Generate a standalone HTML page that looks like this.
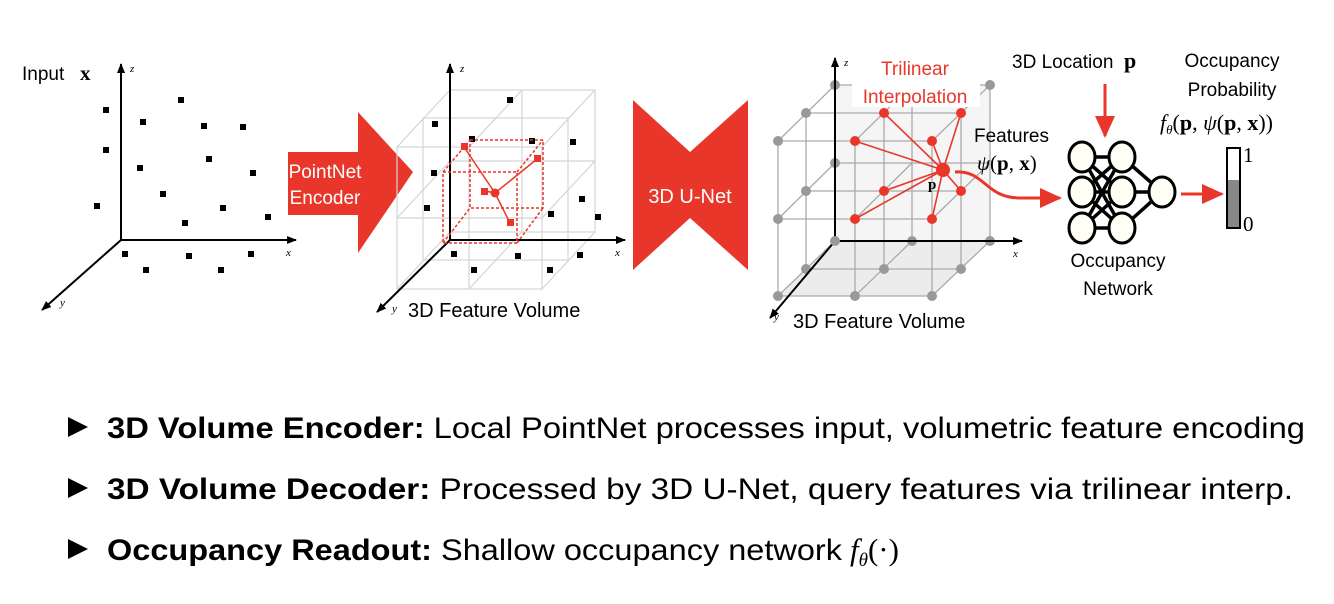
<!DOCTYPE html>
<html><head><meta charset="utf-8"><style>
html,body{margin:0;padding:0;background:#fff;}
svg{display:block;}
text{font-family:"Liberation Sans",sans-serif;}
text.m, tspan.m{font-family:"Liberation Serif",serif;}
.i{font-style:italic;}
</style></head><body>
<svg width="1334" height="604" viewBox="0 0 1334 604" xmlns="http://www.w3.org/2000/svg">
<defs>
<marker id="ab" markerWidth="10" markerHeight="10" refX="9" refY="5" orient="auto" markerUnits="userSpaceOnUse"><path d="M0,1 L10,5 L0,9 Z" fill="#000"/></marker>
<marker id="ar" markerWidth="22" markerHeight="20" refX="20" refY="10" orient="auto" markerUnits="userSpaceOnUse"><path d="M0,0 L22,10 L0,20 Z" fill="#e8372a"/></marker>
</defs>

<!-- Panel 1 -->
<text x="22" y="80" font-size="19">Input</text>
<text class="m" x="80" y="80" font-size="21" font-weight="bold">x</text>
<g stroke="#000" stroke-width="2" fill="none">
<line x1="121" y1="240" x2="121" y2="64" marker-end="url(#ab)"/>
<line x1="121" y1="240" x2="296" y2="240" marker-end="url(#ab)"/>
<line x1="121" y1="240" x2="42" y2="310" marker-end="url(#ab)"/>
</g>
<text class="m i" x="130" y="72" font-size="11">z</text>
<text class="m i" x="286" y="256" font-size="11">x</text>
<text class="m i" x="60" y="306" font-size="11">y</text>
<g fill="#000">
<rect x="103" y="107" width="6" height="6"/><rect x="178" y="97" width="6" height="6"/><rect x="140" y="119" width="6" height="6"/><rect x="201" y="123" width="6" height="6"/><rect x="240" y="124" width="6" height="6"/><rect x="103" y="147" width="6" height="6"/><rect x="137" y="165" width="6" height="6"/><rect x="206" y="156" width="6" height="6"/><rect x="250" y="170" width="6" height="6"/><rect x="160" y="191" width="6" height="6"/><rect x="94" y="203" width="6" height="6"/><rect x="220" y="205" width="6" height="6"/><rect x="182" y="220" width="6" height="6"/><rect x="265" y="214" width="6" height="6"/><rect x="122" y="251" width="6" height="6"/><rect x="186" y="253" width="6" height="6"/><rect x="248" y="251" width="6" height="6"/><rect x="143" y="267" width="6" height="6"/><rect x="218" y="267" width="6" height="6"/>
</g>

<!-- PointNet arrow -->
<polygon points="288,152 358,152 358,112 413,172 358,253 358,215 288,215" fill="#e8372a"/>
<text x="325" y="178" font-size="19" fill="#fff" text-anchor="middle">PointNet</text>
<text x="325" y="204" font-size="19" fill="#fff" text-anchor="middle">Encoder</text>

<!-- Panel 2 grid -->
<g stroke="#d4d4d4" stroke-width="1.2" fill="none">
<rect x="450" y="90" width="145" height="142"/>
<line x1="522" y1="90" x2="522" y2="232"/><line x1="450" y1="161" x2="595" y2="161"/>
<rect x="397" y="147" width="145" height="142"/>
<line x1="469" y1="147" x2="469" y2="289"/><line x1="397" y1="218" x2="542" y2="218"/>
<rect x="423" y="118" width="145" height="142"/>
<line x1="450" y1="90" x2="397" y2="147"/><line x1="522" y1="90" x2="469" y2="147"/><line x1="595" y1="90" x2="542" y2="147"/>
<line x1="450" y1="161" x2="397" y2="218"/><line x1="595" y1="161" x2="542" y2="218"/>
<line x1="450" y1="232" x2="397" y2="289"/><line x1="522" y1="232" x2="469" y2="289"/><line x1="595" y1="232" x2="542" y2="289"/>
</g>
<g stroke="#000" stroke-width="2" fill="none">
<line x1="450" y1="240" x2="450" y2="64" marker-end="url(#ab)"/>
<line x1="450" y1="240" x2="625" y2="240" marker-end="url(#ab)"/>
<line x1="450" y1="240" x2="377" y2="312" marker-end="url(#ab)"/>
</g>
<text class="m i" x="460" y="72" font-size="11">z</text>
<text class="m i" x="615" y="256" font-size="11">x</text>
<text class="m i" x="392" y="312" font-size="11">y</text>
<g fill="#000">
<rect x="432" y="121" width="6" height="6"/><rect x="507" y="97" width="6" height="6"/><rect x="469" y="136" width="6" height="6"/><rect x="529" y="138" width="6" height="6"/><rect x="570" y="139" width="6" height="6"/><rect x="431" y="170" width="6" height="6"/><rect x="579" y="196" width="6" height="6"/><rect x="424" y="205" width="6" height="6"/><rect x="548" y="211" width="6" height="6"/><rect x="595" y="214" width="6" height="6"/><rect x="451" y="251" width="6" height="6"/><rect x="515" y="253" width="6" height="6"/><rect x="577" y="252" width="6" height="6"/><rect x="471" y="267" width="6" height="6"/><rect x="547" y="267" width="6" height="6"/>
</g>
<g stroke="#e8372a" stroke-width="1.5" stroke-dasharray="3,2" fill="none">
<rect x="443" y="172" width="74" height="71"/>
<rect x="470" y="140" width="73" height="68"/>
<line x1="443" y1="172" x2="470" y2="140"/><line x1="517" y1="172" x2="543" y2="140"/><line x1="443" y1="243" x2="470" y2="208"/><line x1="517" y1="243" x2="543" y2="208"/>
</g>
<g stroke="#e8372a" stroke-width="1.5">
<line x1="495" y1="193" x2="464" y2="147"/><line x1="495" y1="193" x2="537" y2="159"/><line x1="495" y1="193" x2="485" y2="191"/><line x1="495" y1="193" x2="510" y2="223"/>
</g>
<g fill="#e8372a">
<circle cx="495" cy="193" r="4.5"/>
<rect x="461" y="143" width="7" height="7"/><rect x="534" y="155" width="7" height="7"/><rect x="481" y="188" width="7" height="7"/><rect x="507" y="219" width="7" height="7"/>
</g>
<rect x="400" y="298" width="210" height="20" fill="#fff"/>
<text x="408" y="317" font-size="20">3D Feature Volume</text>
<rect x="0" y="317" width="640" height="10" fill="#fff"/>

<!-- U-Net -->
<polygon points="633,100 690,152 748,100 748,270 690,218 633,270" fill="#e8372a"/>
<text x="690" y="203" font-size="20" fill="#fff" text-anchor="middle">3D U-Net</text>

<!-- Panel 3 -->
<polygon points="835,241 990,241 933,296 778,296" fill="#ececec"/>
<polygon points="835,85 990,85 990,241 835,241" fill="#f5f5f5"/>
<g stroke="#aaa" stroke-width="1.3" fill="none">
<path d="M835,85V241M912,85V241M990,85V241M835,85H990M835,163H990"/>
<path d="M806,113V269M884,113V269M961,113V269M806,113H961M806,191H961M806,269H961"/>
<path d="M778,141V296M855,141V296M932,141V296M778,141H932M778,219H932M778,296H932"/>
<path d="M835,85L778,141M912,85L855,141M990,85L932,141M835,163L778,219M912,163L855,219M990,163L932,219M835,241L778,296M912,241L855,296M990,241L932,296"/>
</g>
<g fill="#999">
<circle cx="835" cy="85" r="5"/><circle cx="990" cy="85" r="5"/><circle cx="835" cy="163" r="5"/><circle cx="912" cy="241" r="5"/><circle cx="990" cy="241" r="5"/>
<circle cx="806" cy="113" r="5"/><circle cx="806" cy="191" r="5"/><circle cx="806" cy="269" r="5"/><circle cx="884" cy="269" r="5"/><circle cx="961" cy="269" r="5"/>
<circle cx="778" cy="141" r="5"/><circle cx="778" cy="219" r="5"/><circle cx="778" cy="296" r="5"/><circle cx="855" cy="296" r="5"/><circle cx="932" cy="296" r="5"/>
</g>
<g stroke="#000" stroke-width="2" fill="none">
<line x1="835" y1="241" x2="835" y2="58" marker-end="url(#ab)"/>
<line x1="835" y1="241" x2="1022" y2="241" marker-end="url(#ab)"/>
<line x1="835" y1="241" x2="770" y2="318" marker-end="url(#ab)"/>
</g>
<circle cx="835" cy="241" r="5" fill="#999"/>
<text class="m i" x="844" y="66" font-size="11">z</text>
<text class="m i" x="1013" y="257" font-size="11">x</text>
<text class="m i" x="774" y="320" font-size="11">y</text>
<rect x="852" y="55" width="128" height="52" fill="#fff"/>
<text x="915" y="75" font-size="19" fill="#e8372a" text-anchor="middle">Trilinear</text>
<text x="915" y="103" font-size="19" fill="#e8372a" text-anchor="middle">Interpolation</text>
<g stroke="#e8372a" stroke-width="1.6">
<line x1="943" y1="170" x2="884" y2="113"/><line x1="943" y1="170" x2="961" y2="113"/><line x1="943" y1="170" x2="855" y2="141"/><line x1="943" y1="170" x2="932" y2="141"/>
<line x1="943" y1="170" x2="884" y2="191"/><line x1="943" y1="170" x2="961" y2="191"/><line x1="943" y1="170" x2="855" y2="219"/><line x1="943" y1="170" x2="932" y2="219"/>
</g>
<g fill="#e8372a">
<circle cx="884" cy="113" r="5"/><circle cx="961" cy="113" r="5"/><circle cx="855" cy="141" r="5"/><circle cx="932" cy="141" r="5"/><circle cx="884" cy="191" r="5"/><circle cx="961" cy="191" r="5"/><circle cx="855" cy="219" r="5"/><circle cx="932" cy="219" r="5"/>
<circle cx="943" cy="170" r="7"/>
</g>
<text class="m" x="928" y="189" font-size="15" font-weight="bold">p</text>
<text x="974" y="142" font-size="19">Features</text>
<text class="m" x="977" y="170" font-size="21"><tspan class="i">ψ</tspan>(<tspan font-weight="bold">p</tspan>, <tspan font-weight="bold">x</tspan>)</text>
<text x="793" y="328" font-size="20">3D Feature Volume</text>
<path d="M955,172 C985,170 985,198 1020,198 L1060,198" stroke="#e8372a" stroke-width="3" fill="none" marker-end="url(#ar)"/>

<!-- network -->
<text x="1012" y="68" font-size="19">3D Location</text>
<text class="m" x="1124" y="68" font-size="22" font-weight="bold">p</text>
<line x1="1105" y1="84" x2="1105" y2="136" stroke="#e8372a" stroke-width="3" marker-end="url(#ar)"/>
<g stroke="#000" stroke-width="3.5">
<path d="M1082,157L1122,157M1082,157L1122,192M1082,157L1122,228M1082,192L1122,157M1082,192L1122,192M1082,192L1122,228M1082,228L1122,157M1082,228L1122,192M1082,228L1122,228M1122,157L1162,192M1122,192L1162,192M1122,228L1162,192"/>
</g>
<g fill="#fffff5" stroke="#000" stroke-width="3">
<ellipse cx="1082" cy="157" rx="13" ry="15"/><ellipse cx="1082" cy="192" rx="13" ry="15"/><ellipse cx="1082" cy="228" rx="13" ry="15"/>
<ellipse cx="1122" cy="157" rx="13" ry="15"/><ellipse cx="1122" cy="192" rx="13" ry="15"/><ellipse cx="1122" cy="228" rx="13" ry="15"/>
<ellipse cx="1162" cy="192" rx="13" ry="15"/>
</g>
<text x="1118" y="267" font-size="19" text-anchor="middle">Occupancy</text>
<text x="1118" y="295" font-size="19" text-anchor="middle">Network</text>
<line x1="1181" y1="194" x2="1222" y2="194" stroke="#e8372a" stroke-width="3" marker-end="url(#ar)"/>
<text x="1232" y="67" font-size="19" text-anchor="middle">Occupancy</text>
<text x="1232" y="96" font-size="19" text-anchor="middle">Probability</text>
<text class="m" x="1160" y="130" font-size="22"><tspan class="i">f</tspan><tspan font-size="13" class="i" dy="4">θ</tspan><tspan dy="-4">(</tspan><tspan font-weight="bold">p</tspan>, <tspan class="i">ψ</tspan>(<tspan font-weight="bold">p</tspan>, <tspan font-weight="bold">x</tspan>))</text>
<rect x="1227" y="148" width="13" height="80" fill="#fff" stroke="#000" stroke-width="2"/>
<rect x="1228" y="180" width="11" height="47" fill="#888"/>
<text class="m" x="1243" y="162" font-size="21">1</text>
<text class="m" x="1243" y="231" font-size="21">0</text>

<!-- bullets -->
<polygon points="68,417 88,427 68,437" fill="#000"/>
<polygon points="68,478 88,488 68,498" fill="#000"/>
<polygon points="68,539 88,549 68,559" fill="#000"/>
<g font-size="30">
<text x="107" y="438" textLength="1198" lengthAdjust="spacingAndGlyphs"><tspan font-weight="bold">3D Volume Encoder:</tspan> Local PointNet processes input, volumetric feature encoding</text>
<text x="107" y="499" textLength="1186" lengthAdjust="spacingAndGlyphs"><tspan font-weight="bold">3D Volume Decoder:</tspan> Processed by 3D U-Net, query features via trilinear interp.</text>
<text x="107" y="560" textLength="735" lengthAdjust="spacingAndGlyphs"><tspan font-weight="bold">Occupancy Readout:</tspan> Shallow occupancy network</text>
<text class="m" x="850" y="560" font-size="31"><tspan class="i">f</tspan><tspan font-size="19" class="i" dy="6">θ</tspan><tspan dy="-6">(·)</tspan></text>
</g>
</svg>
</body></html>
